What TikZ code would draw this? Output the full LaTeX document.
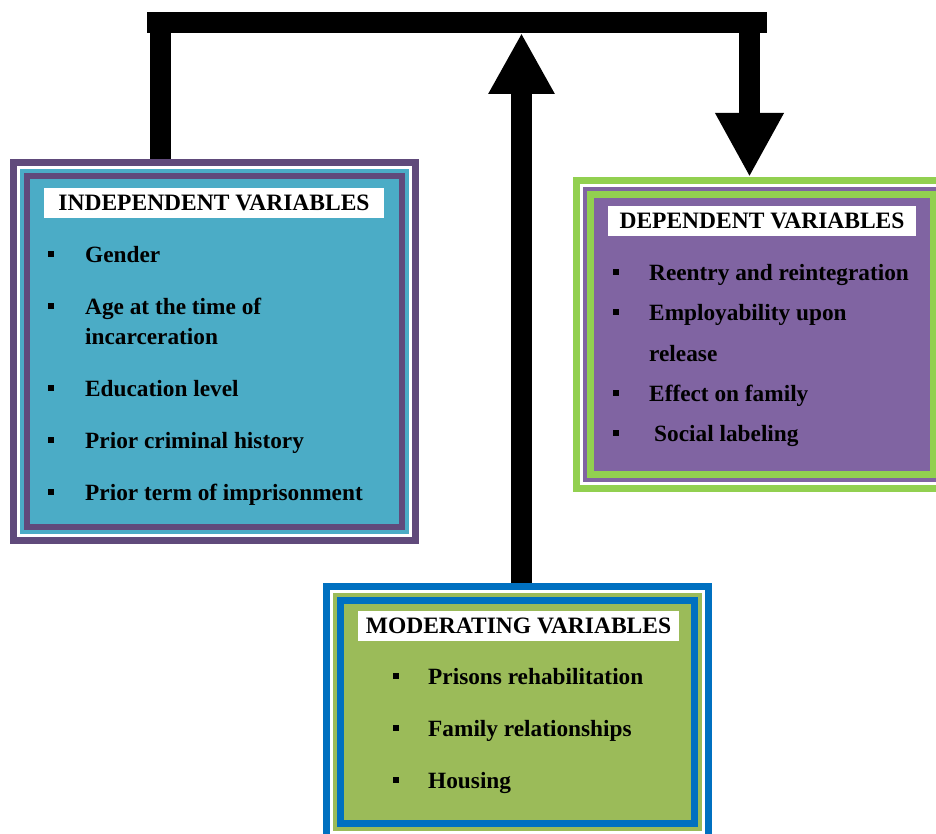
\documentclass[tikz,border=0pt]{standalone}
\usepackage{fontspec}
\setmainfont{Liberation Serif}
\usetikzlibrary{arrows.meta,calc}
\definecolor{dpurple}{HTML}{604A7B}
\definecolor{teal2}{HTML}{4BACC6}
\definecolor{lpurple}{HTML}{8064A2}
\definecolor{lgreen}{HTML}{92D050}
\definecolor{olive}{HTML}{9BBB59}
\definecolor{oblue}{HTML}{0070C0}
\tikzset{
  box/.style={rectangle, inner sep=0pt, anchor=north west},
  titlebox/.style={rectangle, fill=white, inner sep=0pt, font=\fontsize{23.5}{26}\selectfont\bfseries},
  item/.style={anchor=base west, inner sep=0pt, font=\fontsize{23.3}{26}\selectfont\bfseries},
  bul/.style={rectangle, fill=black, minimum size=6pt, inner sep=0pt},
  conn/.style={line width=21pt, black},
}
\newcommand{\layers}[6]{%
  \fill[#2] ($(#1.north west)+(7,7)$) rectangle ($(#1.south east)+(-7,-7)$);
  \fill[#3] ($(#1.north west)+(10,10)$) rectangle ($(#1.south east)+(-10,-10)$);
  \fill[#4] ($(#1.north west)+(14,14)$) rectangle ($(#1.south east)+(-14,-14)$);
  \fill[#5] ($(#1.north west)+(#6,#6)$) rectangle ($(#1.south east)+(-#6,-#6)$);
}
\begin{document}
\begin{tikzpicture}[x=1pt,y=-1pt]
\useasboundingbox (0,0) rectangle (936,834);
\fill[white] (0,0) rectangle (936,834);
\clip (0,0) rectangle (936,834);

% boxes
\node[box, fill=dpurple, minimum width=409pt, minimum height=385pt] (ind) at (10,159) {};
\layers{ind}{white}{teal2}{dpurple}{teal2}{20}
\node[box, fill=lgreen, minimum width=378pt, minimum height=315pt] (dep) at (573,177) {};
\layers{dep}{white}{lpurple}{lgreen}{lpurple}{21}
\node[box, fill=oblue, minimum width=389pt, minimum height=258pt] (mod) at (323,583) {};
\layers{mod}{white}{olive}{oblue}{olive}{21}

% titles
\node[titlebox, minimum width=340pt, minimum height=30pt] (indt) at (214,203) {INDEPENDENT VARIABLES};
\node[titlebox, minimum width=308pt, minimum height=30pt] (dept) at (762,221) {DEPENDENT VARIABLES};
\node[titlebox, minimum width=321pt, minimum height=30pt] (modt) at (518.5,626) {MODERATING VARIABLES};

% independent items
\node[bul] (ib1) at (51,254) {};
\node[item] (i1) at (85,262) {Gender};
\node[bul] (ib2) at (51,306) {};
\node[item] (i2) at (85,314) {Age at the time of};
\node[item] (i2b) at (85,344) {incarceration};
\node[bul] (ib3) at (51,388) {};
\node[item] (i3) at (85,396) {Education level};
\node[bul] (ib4) at (51,440) {};
\node[item] (i4) at (85,448) {Prior criminal history};
\node[bul] (ib5) at (51,492) {};
\node[item] (i5) at (85,500) {Prior term of imprisonment};

% dependent items
\node[bul] (db1) at (616,272) {};
\node[item] (d1) at (649,280) {Reentry and reintegration};
\node[bul] (db2) at (616,312) {};
\node[item] (d2) at (649,320) {Employability upon};
\node[item] (d2b) at (649,361) {release};
\node[bul] (db3) at (616,393) {};
\node[item] (d3) at (649,401) {Effect on family};
\node[bul] (db4) at (616,433) {};
\node[item] (d4) at (654,441) {Social labeling};

% moderating items
\node[bul] (mb1) at (396,676) {};
\node[item] (m1) at (428,684) {Prisons rehabilitation};
\node[bul] (mb2) at (396,728) {};
\node[item] (m2) at (428,736) {Family relationships};
\node[bul] (mb3) at (396,780) {};
\node[item] (m3) at (428,788) {Housing};

% connectors
\coordinate (barL) at (147,23);
\coordinate (barR) at (767,23);
\coordinate (upTip) at (521.5,33);
\coordinate (dnTop) at (749.5,23);
\draw[conn] (barL) -- (barR);
\draw[conn] (ind.north west -| 160,0) -- (160,23);
\draw[conn, -{Triangle[width=62pt,length=61pt]}] (mod.north west -| upTip) -- (upTip);
\draw[conn, -{Triangle[width=64pt,length=64pt]}] (dnTop) -- (dnTop |- dep.north);
\end{tikzpicture}
\end{document}
